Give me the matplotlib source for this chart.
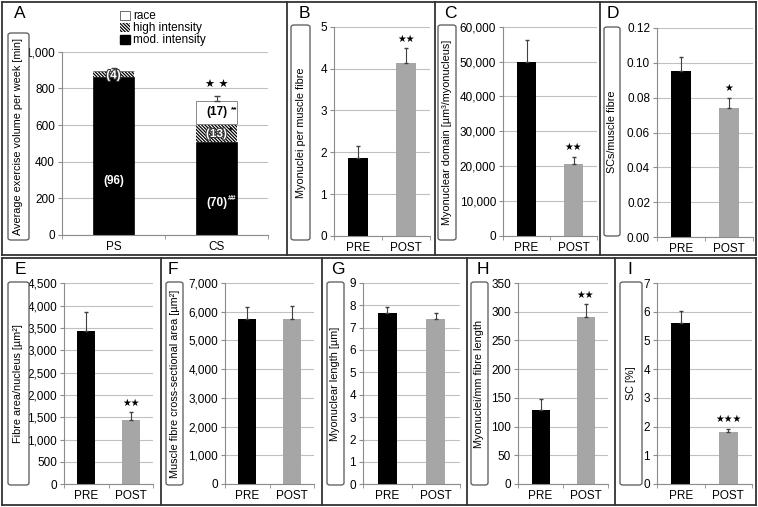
import matplotlib
matplotlib.use('Agg')
import matplotlib.pyplot as plt
import matplotlib.patheffects as pe
from matplotlib.patches import FancyBboxPatch, Patch
from matplotlib.ticker import FuncFormatter, FixedLocator

plt.rcParams['font.family'] = ['Liberation Sans', 'DejaVu Sans']
plt.rcParams['hatch.linewidth'] = 0.9

# --- data ---
groups_A = ['PS', 'CS']
mod_intensity = [860, 510]
high_intensity = [36, 98]
race = [0, 123]
err_top_A = [912, 760]
pct_mod = ['(96)', '(70)']
pct_high = ['(4)', '(13)']
pct_race = ['', '(17)']

groups = ['PRE', 'POST']
myonuclei_per_fibre = [1.86, 4.14]
myonuclei_per_fibre_err = [2.14, 4.48]
myonuclear_domain = [49800, 20500]
myonuclear_domain_err = [56200, 22700]
scs_per_fibre = [0.0955, 0.0738]
scs_per_fibre_err = [0.1033, 0.080]
fibre_area_nucleus = [3430, 1440]
fibre_area_nucleus_err = [3850, 1610]
fibre_csa = [5750, 5750]
fibre_csa_err = [6170, 6190]
myonuclear_length = [7.63, 7.36]
myonuclear_length_err = [7.90, 7.63]
myonuclei_per_mm = [128, 290]
myonuclei_per_mm_err = [148, 313]
sc_percent = [5.59, 1.80]
sc_percent_err = [6.02, 1.93]

W, H = 758, 507
fig = plt.figure(figsize=(W / 100, H / 100), dpi=100)
HATCH = '\\\\\\\\\\\\\\\\\\\\'


def px_axes(x0, x1, ytop, ybot):
    return fig.add_axes([x0 / W, 1 - ybot / H, (x1 - x0) / W, (ybot - ytop) / H])


def fline(x0, y0, x1, y1):
    fig.add_artist(plt.Line2D([x0 / W, x1 / W], [1 - y0 / H, 1 - y1 / H],
                              color='#333333', lw=1.3, transform=fig.transFigure))


def label_box(x0, x1, y0, y1, text):
    fig.add_artist(FancyBboxPatch((x0 / W, 1 - y1 / H), (x1 - x0) / W, (y1 - y0) / H,
                                  boxstyle='round,pad=0,rounding_size=0.004',
                                  fc='white', ec='#555555', lw=0.9,
                                  transform=fig.transFigure))
    fig.text((x0 + x1) / 2 / W, 1 - (y0 + y1) / 2 / H, text, rotation=90,
             ha='center', va='center', fontsize=7.8)


def style_ax(ax, ymax, step, fmt, labels):
    ax.set_xlim(-0.5, 1.5)
    ax.set_ylim(0, ymax)
    ax.yaxis.set_major_locator(FixedLocator([i * step for i in range(int(round(ymax / step)) + 1)]))
    ax.yaxis.set_major_formatter(FuncFormatter(fmt))
    ax.grid(axis='y', color='#c0c0c0', lw=0.8)
    ax.set_axisbelow(True)
    for s in ['top', 'right']:
        ax.spines[s].set_visible(False)
    for s in ['left', 'bottom']:
        ax.spines[s].set_color('#8c8c8c')
        ax.spines[s].set_linewidth(0.8)
    ax.set_xticks([0, 1])
    ax.set_xticklabels(labels, fontsize=8.5)
    ax.set_xticks([-0.5, 0.5, 1.5], minor=True)
    ax.tick_params(axis='x', which='major', length=0, pad=4)
    ax.tick_params(axis='x', which='minor', length=3, color='#8c8c8c')
    ax.tick_params(axis='y', length=3, color='#8c8c8c', labelsize=8.5, pad=2)


def comma(v, p):
    return f'{v:,.0f}'


def bar_panel(ax, vals, errs, ymax, step, fmt, stars):
    style_ax(ax, ymax, step, fmt, groups)
    x = [0, 1]
    ax.bar(x, vals, width=0.4, color=['black', '#a6a6a6'], zorder=2)
    ax.errorbar(x, vals, yerr=[[0, 0], [e - v for v, e in zip(vals, errs)]],
                fmt='none', ecolor='#404040', elinewidth=0.8, capsize=1.5, zorder=3)
    if stars:
        i = 1
        ax.text(i, errs[i] + ymax * 0.022, stars, ha='center', va='bottom',
                fontsize=7, family='DejaVu Sans')


# --- panel borders ---
fline(2, 2, 756, 2); fline(2, 255, 756, 255)
fline(2, 2, 2, 255); fline(756, 2, 756, 255)
for xv in [287, 435, 600]:
    fline(xv, 2, xv, 255)
fline(2, 258, 756, 258); fline(2, 505, 756, 505)
fline(2, 258, 2, 505); fline(756, 258, 756, 505)
for xv in [161, 322, 467, 615]:
    fline(xv, 258, xv, 505)

# --- panel A ---
axA = px_axes(62, 268, 51.7, 235)
style_ax(axA, 1000, 200, comma, groups_A)
xA = [0, 1]
bw = 0.39
axA.bar(xA, mod_intensity, width=bw, color='black', edgecolor='black', lw=0.5, zorder=2)
axA.bar(xA, high_intensity, bottom=mod_intensity, width=bw, color='white',
        edgecolor='black', hatch=HATCH, lw=0, zorder=2)
bot2 = [m + h for m, h in zip(mod_intensity, high_intensity)]
axA.bar(xA, race, bottom=bot2, width=bw, color='white', edgecolor='#777777', lw=0.6, zorder=2)
tops = [b + r for b, r in zip(bot2, race)]
axA.errorbar(xA, tops, yerr=[[0, 0], [e - t for t, e in zip(tops, err_top_A)]],
             fmt='none', ecolor='#404040', elinewidth=0.8, capsize=2, zorder=3)
outl = [pe.withStroke(linewidth=1.5, foreground='#333333')]
for i in xA:
    axA.text(i, mod_intensity[i] * 0.34, pct_mod[i], color='white', fontsize=8.5,
             fontweight='bold', ha='center', va='center', zorder=4)
    axA.text(i, mod_intensity[i] + high_intensity[i] / 2 - 8, pct_high[i], color='white',
             fontsize=8.5, fontweight='bold', ha='center', va='center', zorder=4, path_effects=outl)
    if pct_race[i]:
        axA.text(i, bot2[i] + race[i] / 2, pct_race[i], color='black', fontsize=8.5,
                 fontweight='bold', ha='center', va='center', zorder=4)
axA.text(1.15, mod_intensity[1] * 0.34 + 25, '##', color='white', fontsize=5.5,
         fontweight='bold', ha='center', va='center', zorder=4)
axA.text(1.14, mod_intensity[1] + high_intensity[1] / 2 + 15, '*', color='black', fontsize=6.5,
         fontweight='bold', ha='center', va='center', zorder=4)
axA.text(1.17, bot2[1] + race[1] / 2 + 15, '**', color='black', fontsize=6,
         fontweight='bold', ha='center', va='center', zorder=4)
axA.text(1, err_top_A[1] + 30, '★ ★', ha='center', va='bottom', fontsize=8,
         family='DejaVu Sans')
leg_handles = [Patch(fc='white', ec='#555555', lw=0.6, label='race'),
               Patch(fc='white', ec='black', hatch=HATCH, lw=0, label='high intensity'),
               Patch(fc='black', ec='black', label='mod. intensity')]
fig.legend(handles=leg_handles, loc='upper left', bbox_to_anchor=(112 / W, 1 - 2 / H),
           frameon=False, fontsize=8.5, handlelength=0.8, handleheight=0.8,
           handletextpad=0.3, labelspacing=0.0, borderpad=0.2)
label_box(8, 29, 33, 240, 'Average exercise volume per week [min]')

# --- panel B-D ---
axB = px_axes(334, 430, 26.7, 236)
bar_panel(axB, myonuclei_per_fibre, myonuclei_per_fibre_err, 5, 1, lambda v, p: f'{v:.0f}', '★★')
label_box(291, 310, 25, 240, 'Myonuclei per muscle fibre')

axC = px_axes(503, 597, 26.7, 236)
bar_panel(axC, myonuclear_domain, myonuclear_domain_err, 60000, 10000, comma, '★★')
label_box(438, 456, 25, 240, 'Myonuclear domain [µm³/myonucleus]')

axD = px_axes(657, 753, 28, 237)
bar_panel(axD, scs_per_fibre, scs_per_fibre_err, 0.12, 0.02, lambda v, p: f'{v:.2f}', '★')
label_box(604, 620, 27, 236, 'SCs/muscle fibre')

# --- panel E-I ---
axE = px_axes(64, 153, 283.3, 484.3)
bar_panel(axE, fibre_area_nucleus, fibre_area_nucleus_err, 4500, 500, comma, '★★')
label_box(8, 29, 282, 485, 'Fibre area/nucleus [µm²]')

axF = px_axes(225, 314, 283, 484)
bar_panel(axF, fibre_csa, fibre_csa_err, 7000, 1000, comma, '')
label_box(166, 183, 282, 485, 'Muscle fibre cross-sectional area [µm²]')

axG = px_axes(363, 460, 282.7, 484.3)
bar_panel(axG, myonuclear_length, myonuclear_length_err, 9, 1, lambda v, p: f'{v:.0f}', '')
label_box(327, 344, 282, 485, 'Myonuclear length [µm]')

axH = px_axes(518, 608, 283, 484)
bar_panel(axH, myonuclei_per_mm, myonuclei_per_mm_err, 350, 50, lambda v, p: f'{v:.0f}', '★★')
label_box(471, 488, 282, 485, 'Myonuclei/mm fibre length')

axI = px_axes(657, 752, 283, 484)
bar_panel(axI, sc_percent, sc_percent_err, 7, 1, lambda v, p: f'{v:.0f}', '★★★')
label_box(620, 642, 282, 485, 'SC [%]')

# --- panel letters ---
letters = [('A', 20, 14), ('B', 304, 14), ('C', 450, 14), ('D', 613, 14),
           ('E', 20, 270), ('F', 173, 270), ('G', 338, 270), ('H', 483, 270), ('I', 630, 270)]
for t, x, y in letters:
    fig.text(x / W, 1 - y / H, t, fontsize=12.5, ha='center', va='center')

fig.savefig('out.png', dpi=100)
